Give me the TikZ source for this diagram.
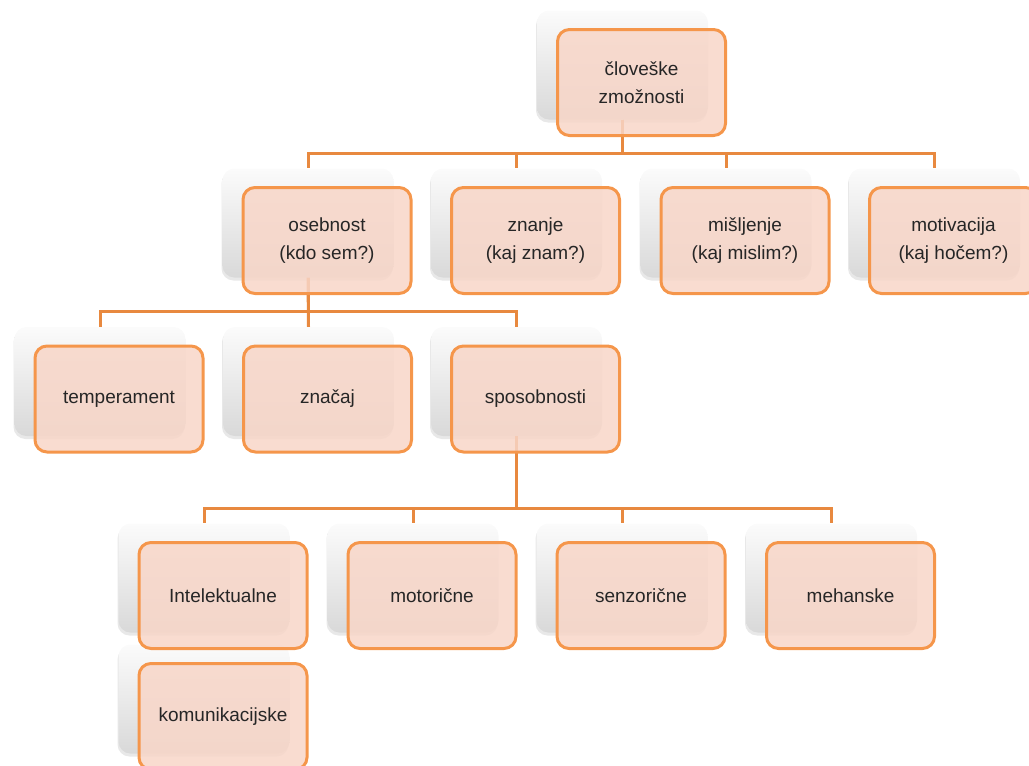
\documentclass[tikz,border=0pt]{standalone}
\usepackage{fontspec}
\setmainfont{Liberation Sans}
\usetikzlibrary{shadows}

\definecolor{boxfill}{RGB}{248,214,200}
\definecolor{boxline}{RGB}{245,150,75}
\definecolor{linkc}{RGB}{232,137,63}

\tikzset{
  card/.style={minimum width=171pt, minimum height=109pt, rounded corners=12pt,
    inner sep=0pt, top color=gray!3, bottom color=gray!30,
    drop shadow={shadow xshift=-1pt, shadow yshift=-3pt, opacity=0.18}},
  box/.style={draw=boxline, line width=3pt, fill=boxfill, fill opacity=0.85,
    text opacity=1, rounded corners=12pt, minimum width=168pt, minimum height=106pt,
    inner sep=0pt, align=center, text=black!85, font=\fontsize{19}{28}\selectfont},
  link/.style={draw=linkc, line width=3pt}
}

\begin{document}
\begin{tikzpicture}[x=1pt, y=-1pt]
\useasboundingbox (0,0) rectangle (1029,766);

% grey backing cards
\node[card] (s-top)  at (622.5, 65) {};
\node[card] (s-oseb) at (308, 223) {};
\node[card] (s-znan) at (516.5, 223) {};
\node[card] (s-misl) at (726, 223) {};
\node[card] (s-moti) at (934.5, 223) {};
\node[card] (s-temp) at (100, 381.5) {};
\node[card] (s-znac) at (308.5, 381.5) {};
\node[card] (s-spos) at (516.5, 381.5) {};
\node[card] (s-inte) at (204, 578) {};
\node[card] (s-moto) at (413, 578) {};
\node[card] (s-senz) at (622, 578) {};
\node[card] (s-meha) at (831.5, 578) {};
\node[card] (s-komu) at (204, 699) {};

% connectors
\draw[link] (s-top.south) -- (s-top.south |- 0,153) -| (s-oseb.north);
\draw[link] (s-top.south) -- (s-top.south |- 0,153) -| (s-znan.north);
\draw[link] (s-top.south) -- (s-top.south |- 0,153) -| (s-misl.north);
\draw[link] (s-top.south) -- (s-top.south |- 0,153) -| (s-moti.north);
\draw[link] (s-oseb.south) -- (s-oseb.south |- 0,311) -| (s-temp.north);
\draw[link] (s-oseb.south) -- (s-znac.north);
\draw[link] (s-oseb.south) -- (s-oseb.south |- 0,311) -| (s-spos.north);
\draw[link] (s-spos.south) -- (s-spos.south |- 0,508) -| (s-inte.north);
\draw[link] (s-spos.south) -- (s-spos.south |- 0,508) -| (s-moto.north);
\draw[link] (s-spos.south) -- (s-spos.south |- 0,508) -| (s-senz.north);
\draw[link] (s-spos.south) -- (s-spos.south |- 0,508) -| (s-meha.north);

% orange boxes
\node[box] (top)  at (641.5, 82.5) {človeške\\zmožnosti};
\node[box] (oseb) at (327, 240.5) {osebnost\\(kdo sem?)};
\node[box] (znan) at (535.5, 240.5) {znanje\\(kaj znam?)};
\node[box] (misl) at (745, 240.5) {mišljenje\\(kaj mislim?)};
\node[box] (moti) at (953.5, 240.5) {motivacija\\(kaj hočem?)};
\node[box] (temp) at (119, 399) {temperament};
\node[box] (znac) at (327.5, 399) {značaj};
\node[box] (spos) at (535.5, 399) {sposobnosti};
\node[box] (inte) at (223, 595.5) {Intelektualne};
\node[box] (moto) at (432, 595.5) {motorične};
\node[box] (senz) at (641, 595.5) {senzorične};
\node[box] (meha) at (850.5, 595.5) {mehanske};
\node[box] (komu) at (223, 716.5) {komunikacijske};
\end{tikzpicture}
\end{document}
